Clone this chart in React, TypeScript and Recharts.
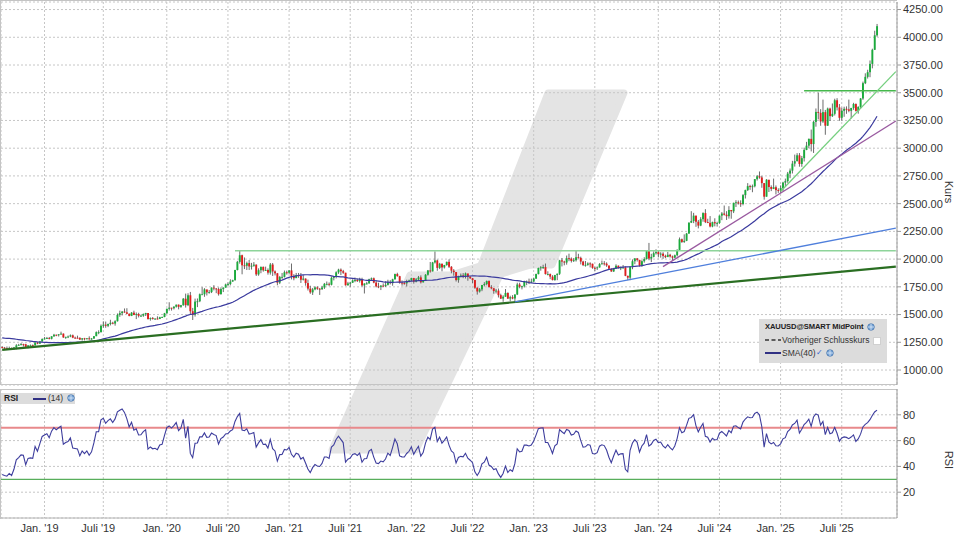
import React from 'react';
import { ComposedChart, Bar, Line, XAxis, YAxis, CartesianGrid, ReferenceLine } from 'recharts';

// ---- weekly closes before the visible window (for SMA / RSI warm-up), Dec 2017 - Aug 2018
const preCloses = [1280,1248,1257,1275,1303,1322,1338,1332,1350,1333,1315,1347,1330,1323,1323,1313,1347,1325,1332,1345,1336,1323,1314,1320,1291,1302,1294,1298,1278,1270,1252,1255,1241,1231,1223,1214,1212,1184,1206];

// ---- visible weekly candles: week 0 = 27 Aug 2018 ... week 372 = 13 Oct 2025
const closes = [
1201,1197,1194,1199,1192,1203,1222,1227,1233,1232,
1209,1222,1223,1222,1248,1238,1257,1280,1285,1289,
1282,1304,1318,1314,1322,1328,1294,1299,1302,1313,
1292,1291,1290,1275,1286,1280,1286,1277,1284,1305,
1341,1341,1399,1409,1399,1415,1426,1419,1440,1497,
1513,1527,1520,1507,1488,1517,1497,1505,1489,1490,
1505,1514,1459,1468,1462,1464,1460,1476,1478,1511,
1552,1562,1557,1571,1589,1570,1584,1643,1585,1674,
1530,1498,1617,1620,1683,1683,1727,1700,1703,1743,
1735,1730,1684,1730,1743,1771,1775,1798,1810,1902,
1975,2035,1944,1940,1964,1934,1940,1950,1862,1900,
1930,1899,1902,1878,1951,1889,1872,1788,1839,1840,
1881,1877,1898,1849,1828,1855,1848,1814,1824,1784,
1734,1700,1727,1745,1733,1729,1744,1777,1777,1769,
1831,1844,1881,1905,1891,1877,1764,1781,1787,1808,
1812,1802,1814,1763,1780,1781,1818,1827,1788,1754,
1750,1761,1757,1768,1793,1783,1818,1865,1846,1788,
1783,1782,1798,1808,1829,1797,1817,1835,1791,1808,
1859,1898,1889,1970,1988,1921,1958,1925,1947,1975,
1931,1896,1883,1811,1846,1853,1850,1871,1840,1827,
1811,1742,1708,1727,1766,1775,1802,1747,1737,1712,
1716,1675,1644,1661,1695,1644,1657,1645,1681,1771,
1751,1755,1797,1797,1793,1798,1824,1865,1920,1926,
1928,1865,1865,1842,1811,1856,1868,1989,1978,1969,
2008,2004,1983,1990,2017,2011,1978,1946,1948,1961,
1958,1921,1919,1925,1955,1962,1959,1943,1914,1889,
1915,1940,1919,1924,1925,1849,1833,1933,1981,2006,
1993,1940,1981,2001,2072,2005,2020,2053,2063,2045,
2049,2029,2018,2039,2024,2013,2035,2083,2179,2155,
2165,2230,2329,2344,2392,2337,2302,2360,2415,2334,
2327,2294,2333,2322,2326,2392,2411,2400,2387,2443,
2431,2507,2512,2503,2497,2577,2622,2658,2654,2657,
2721,2747,2736,2685,2563,2716,2650,2633,2648,2622,
2621,2640,2690,2703,2771,2798,2861,2883,2936,2858,
2910,2984,3023,3084,3037,3237,3327,3319,3241,3325,
3203,3357,3289,3310,3432,3368,3274,3337,3355,3350,
3337,3363,3398,3336,3372,3448,3586,3643,3685,3760,
3887,4018,4100];

const highs = [
1215,1208,1212,1211,1203,1208,1233,1236,1243,1237,
1237,1225,1230,1230,1250,1252,1262,1285,1298,1298,
1298,1305,1326,1320,1324,1346,1330,1300,1311,1321,
1320,1301,1310,1295,1288,1290,1288,1304,1289,1306,
1348,1358,1411,1439,1437,1419,1453,1435,1449,1510,
1535,1531,1555,1557,1510,1523,1535,1519,1516,1499,
1510,1516,1514,1474,1478,1465,1484,1480,1482,1515,
1553,1611,1561,1575,1590,1591,1587,1649,1689,1692,
1704,1560,1644,1645,1690,1747,1738,1722,1722,1745,
1765,1739,1744,1745,1745,1779,1789,1818,1814,1903,
1984,2075,2040,2015,1977,1992,1966,1973,1952,1917,
1933,1933,1932,1916,1965,1965,1898,1875,1848,1875,
1897,1896,1900,1960,1864,1875,1875,1875,1855,1826,
1815,1760,1740,1755,1755,1740,1759,1785,1798,1790,
1843,1846,1890,1913,1916,1903,1877,1795,1795,1818,
1834,1825,1832,1832,1782,1795,1823,1834,1834,1809,
1787,1765,1781,1801,1814,1810,1823,1869,1877,1849,
1808,1793,1814,1815,1832,1831,1829,1848,1853,1811,
1865,1902,1974,1975,2070,1995,1966,1960,1948,1978,
1998,1937,1910,1884,1850,1870,1874,1879,1860,1847,
1830,1813,1745,1739,1767,1792,1807,1808,1765,1740,
1730,1735,1688,1674,1730,1700,1670,1675,1682,1787,
1787,1760,1805,1807,1824,1824,1833,1869,1923,1937,
1949,1960,1890,1870,1855,1858,1870,1993,2010,1985,
2032,2049,2015,2009,2081,2048,2022,1985,1983,1971,
1971,1959,1932,1934,1964,1987,1982,1971,1936,1916,
1921,1953,1943,1933,1947,1934,1851,1934,1997,2009,
2010,1993,1990,2017,2075,2146,2048,2070,2088,2079,
2062,2062,2040,2065,2048,2032,2041,2088,2195,2185,
2223,2236,2330,2432,2417,2391,2353,2378,2422,2450,
2364,2388,2338,2368,2337,2393,2424,2483,2432,2477,
2439,2509,2531,2528,2530,2586,2626,2685,2670,2672,
2722,2758,2790,2750,2686,2721,2712,2665,2726,2664,
2638,2665,2697,2726,2786,2817,2886,2942,2955,2956,
2930,3005,3057,3087,3168,3245,3358,3500,3352,3438,
3345,3366,3365,3403,3446,3451,3398,3365,3374,3377,
3438,3363,3409,3404,3378,3452,3600,3675,3707,3791,
3897,4059,4120];

const lows = [
1195,1190,1191,1191,1181,1182,1187,1220,1222,1211,
1203,1196,1212,1212,1221,1233,1235,1256,1276,1280,
1276,1276,1299,1305,1302,1320,1290,1281,1288,1296,
1287,1281,1284,1271,1266,1267,1276,1273,1272,1281,
1305,1323,1339,1382,1381,1387,1402,1412,1400,1437,
1480,1492,1516,1505,1484,1486,1495,1459,1474,1480,
1480,1487,1456,1445,1455,1452,1456,1459,1471,1476,
1508,1536,1536,1546,1563,1547,1561,1580,1563,1576,
1504,1451,1482,1567,1612,1680,1660,1672,1688,1694,
1718,1693,1671,1680,1703,1743,1757,1763,1795,1806,
1898,1959,1863,1910,1902,1902,1906,1931,1848,1850,
1873,1887,1893,1860,1860,1848,1853,1764,1775,1822,
1834,1860,1866,1817,1809,1830,1831,1785,1807,1760,
1717,1687,1677,1719,1723,1677,1722,1731,1763,1756,
1763,1808,1826,1867,1856,1867,1761,1761,1750,1785,
1792,1794,1788,1752,1690,1771,1778,1810,1782,1745,
1738,1721,1746,1749,1762,1772,1760,1815,1842,1778,
1762,1770,1753,1790,1800,1779,1790,1805,1780,1788,
1807,1851,1878,1889,1960,1895,1910,1890,1915,1940,
1920,1872,1850,1798,1787,1840,1828,1825,1805,1822,
1784,1732,1680,1698,1711,1754,1764,1745,1728,1688,
1690,1654,1640,1615,1660,1641,1618,1638,1617,1676,
1737,1727,1744,1765,1775,1785,1794,1822,1862,1896,
1911,1861,1853,1819,1808,1805,1810,1857,1934,1944,
1950,1981,1969,1974,1978,2005,1952,1937,1932,1940,
1925,1913,1893,1902,1923,1951,1942,1930,1910,1885,
1884,1912,1915,1901,1914,1846,1810,1810,1909,1954,
1978,1932,1931,1968,1997,1990,1973,2016,2041,2016,
2013,2002,2009,2030,2014,1984,2010,2024,2078,2146,
2146,2162,2229,2325,2324,2291,2277,2297,2337,2325,
2324,2286,2287,2295,2293,2319,2351,2393,2353,2365,
2364,2415,2470,2492,2471,2485,2546,2614,2624,2603,
2647,2708,2725,2643,2536,2563,2605,2613,2631,2583,
2597,2596,2614,2656,2688,2730,2772,2834,2881,2833,
2832,2880,2982,2999,2971,2957,3194,3260,3202,3228,
3121,3200,3245,3281,3295,3340,3247,3248,3283,3310,
3324,3268,3346,3330,3311,3360,3436,3578,3628,3640,
3720,3885,4005];

// ---- axes
const slotCount = 381; // weeks shown on the x axis (incl. empty space on the right)
const xTickWeeks = [18, 43, 70, 96, 122, 148, 174, 200, 226, 252, 279, 305, 331, 357];
const xTickLabels = ["Jan. '19", "Juli '19", "Jan. '20", "Juli '20", "Jan. '21", "Juli '21", "Jan. '22", "Juli '22", "Jan. '23", "Juli '23", "Jan. '24", "Juli '24", "Jan. '25", "Juli '25"];
const priceTicks = [1000, 1250, 1500, 1750, 2000, 2250, 2500, 2750, 3000, 3250, 3500, 3750, 4000, 4250];
const priceDomain = [865, 4318];
const rsiTicks = [20, 40, 60, 80];
const rsiLevels = [70, 30];

// ---- drawn trend lines: [week, price] pairs
const trendLong = [[0, 1182], [380, 1932]];
const trendBlue = [[218, 1614], [380, 2280]];
const trendPurple = [[281, 1932], [380, 3245]];
const trendGreen = [[331, 2610], [380, 3690]];
const resistOld = [[99, 2075], [380, 2075]];
const resistNew = [[341, 3518], [380, 3518]];

// ---- indicators derived from the closes
const allCloses = [...preCloses, ...closes];
const P = preCloses.length;
const rsiAll: (number | null)[] = new Array(allCloses.length).fill(null);
(() => {
  let ag = 0, al = 0;
  for (let k = 1; k <= 14; k++) {
    const d = allCloses[k] - allCloses[k - 1];
    if (d > 0) ag += d; else al -= d;
  }
  ag /= 14; al /= 14;
  rsiAll[14] = al === 0 ? 100 : 100 - 100 / (1 + ag / al);
  for (let k = 15; k < allCloses.length; k++) {
    const d = allCloses[k] - allCloses[k - 1];
    ag = (ag * 13 + Math.max(d, 0)) / 14;
    al = (al * 13 + Math.max(-d, 0)) / 14;
    rsiAll[k] = al === 0 ? 100 : 100 - 100 / (1 + ag / al);
  }
})();

const rows = Array.from({ length: slotCount }, (_, i) => {
  if (i >= closes.length) return { i };
  const win = allCloses.slice(P + i - 39, P + i + 1);
  return {
    i,
    open: allCloses[P + i - 1],
    close: closes[i],
    high: highs[i],
    low: lows[i],
    sma: win.reduce((a, b) => a + b, 0) / win.length,
    rsi: rsiAll[P + i],
  };
});

const FONT = '"Liberation Sans", Arial, sans-serif';

const Candle = (props: any) => {
  const { x, y, width, height, payload } = props;
  if (!payload || payload.high == null || x == null || y == null) return null;
  const { open, close, high, low } = payload;
  const top = Math.min(y, y + height);
  const h = Math.abs(height);
  const k = high > low ? h / (high - low) : 0;
  const yOf = (v: number) => top + (high - v) * k;
  const cx = x + width / 2;
  const up = close >= open;
  const bt = yOf(Math.max(open, close));
  const bb = yOf(Math.min(open, close));
  const bw = 1.9;
  return (
    <g>
      <line x1={cx} x2={cx} y1={top} y2={top + h} stroke="#5a5a5a" strokeWidth={0.9} />
      <rect x={cx - bw / 2} y={bt} width={bw} height={Math.max(bb - bt, 0.9)} fill={up ? '#1aab3c' : '#e01c1c'} />
    </g>
  );
};

const XTick = (p: any) => {
  const idx = xTickWeeks.indexOf(Number(p.payload.value));
  return (
    <text x={p.x - 5} y={p.y} dy={14} textAnchor="middle" fontSize={11} fill="#333" fontFamily={FONT}>
      {idx >= 0 ? xTickLabels[idx] : ''}
    </text>
  );
};

const seg = (s: number[][]) => [{ x: s[0][0], y: s[0][1] }, { x: s[1][0], y: s[1][1] }];

const Globe = ({ left, top }: { left: number; top: number }) => (
  <svg width={8} height={8} style={{ position: 'absolute', left, top }}>
    <circle cx={4} cy={4} r={3.3} fill="#7aa6d8" stroke="#3d6fa8" strokeWidth={0.7} />
    <path d="M1 4 H7 M4 0.8 V7.2" stroke="#e8f0fa" strokeWidth={0.7} />
  </svg>
);

export default function App() {
  return (
    <div style={{ position: 'absolute', left: 0, top: 0, width: 960, height: 540, background: '#fff', overflow: 'hidden', fontFamily: FONT }}>
      {/* watermark */}
      <svg width={960} height={540} style={{ position: 'absolute', left: 0, top: 0 }}>
        <path d="M548 93 L624 93 L552 265 L481 265 Z" fill="#e4e4e4" stroke="#e4e4e4" strokeWidth={7} strokeLinejoin="round" />
        <path d="M410 275 L500 275 L416 450 L332 450 Z" fill="#e4e4e4" stroke="#e4e4e4" strokeWidth={7} strokeLinejoin="round" />
        <path d="M481 262 L552 262 L500 278 L430 278 Z" fill="#e4e4e4" />
      </svg>
      {/* panel frames */}
      <div style={{ position: 'absolute', left: 0, top: 0, width: 897, height: 385, borderLeft: '1px solid #c4c4c4', borderTop: '1px solid #c4c4c4', borderBottom: '1px solid #c4c4c4', boxSizing: 'border-box' }} />
      <div style={{ position: 'absolute', left: 0, top: 389, width: 897, height: 130, borderLeft: '1px solid #c4c4c4', borderTop: '1px solid #c4c4c4', boxSizing: 'border-box' }} />

      <div style={{ position: 'absolute', left: 0, top: 0 }}>
        <ComposedChart width={960} height={386} data={rows} margin={{ top: 2, right: 0, bottom: 1, left: 1 }}>
          <CartesianGrid stroke="#c6c6c6" strokeDasharray="2 2" />
          <XAxis dataKey="i" type="category" hide ticks={xTickWeeks} interval={0} />
          <YAxis orientation="right" width={63} domain={priceDomain} ticks={priceTicks} allowDataOverflow
            tickFormatter={(v: number) => v.toFixed(2)} tick={{ fontSize: 11, fill: '#333' }}
            tickSize={4} tickMargin={2} axisLine={{ stroke: '#9a9a9a' }} tickLine={{ stroke: '#9a9a9a' }} />
          <Bar dataKey={(d: any) => (d.high != null ? [d.low, d.high] : null)} shape={Candle} isAnimationActive={false} />
          <Line dataKey="sma" stroke="#3a3a9e" strokeWidth={1.2} dot={false} isAnimationActive={false} />
          <ReferenceLine segment={seg(resistOld)} stroke="#8ed49a" strokeWidth={1.6} />
          <ReferenceLine segment={seg(resistNew)} stroke="#45b84c" strokeWidth={1.5} />
          <ReferenceLine segment={seg(trendLong)} stroke="#2a6e22" strokeWidth={2.2} />
          <ReferenceLine segment={seg(trendBlue)} stroke="#4f7fdc" strokeWidth={1.3} />
          <ReferenceLine segment={seg(trendPurple)} stroke="#9a5aa0" strokeWidth={1.4} />
          <ReferenceLine segment={seg(trendGreen)} stroke="#74cf7e" strokeWidth={1.3} />
        </ComposedChart>
      </div>

      <div style={{ position: 'absolute', left: 0, top: 389 }}>
        <ComposedChart width={960} height={151} data={rows} margin={{ top: 0, right: 0, bottom: 0, left: 1 }}>
          <CartesianGrid stroke="#c6c6c6" strokeDasharray="2 2" />
          <XAxis dataKey="i" type="category" ticks={xTickWeeks} interval={0} height={22} tickLine={false} tickSize={0} tickMargin={0}
            axisLine={{ stroke: '#b4b4b4' }} tick={<XTick />} />
          <YAxis orientation="right" width={63} domain={[0, 100]} ticks={rsiTicks} tick={{ fontSize: 11, fill: '#333' }}
            tickSize={4} tickMargin={2} axisLine={{ stroke: '#9a9a9a' }} tickLine={{ stroke: '#9a9a9a' }} />
          <ReferenceLine y={rsiLevels[0]} stroke="#e8898b" strokeWidth={2} />
          <ReferenceLine y={rsiLevels[1]} stroke="#2f9a33" strokeWidth={1} />
          <Bar dataKey="none" isAnimationActive={false} />
          <Line dataKey="rsi" stroke="#3d3d9d" strokeWidth={1.1} dot={false} isAnimationActive={false} />
        </ComposedChart>
      </div>

      {/* axis titles */}
      <svg width={960} height={540} style={{ position: 'absolute', left: 0, top: 0, pointerEvents: 'none' }}>
        <text x={945} y={192} fontSize={11} fill="#333" fontFamily={FONT} textAnchor="middle" transform="rotate(90 945 192)">Kurs</text>
        <text x={945} y={460} fontSize={11} fill="#333" fontFamily={FONT} textAnchor="middle" transform="rotate(90 945 460)">RSI</text>
      </svg>

      {/* main legend */}
      <div style={{ position: 'absolute', left: 759, top: 319, width: 128, height: 44, background: '#dcdcdc', fontSize: 8.5, lineHeight: '10px', color: '#222' }}>
        <div style={{ position: 'absolute', left: 6, top: 3, fontWeight: 'bold', whiteSpace: 'nowrap', fontSize: 7.6, letterSpacing: -0.1 }}>XAUUSD@SMART MidPoint</div>
        <Globe left={108} top={4} />
        <svg width={16} height={4} style={{ position: 'absolute', left: 6, top: 19 }}>
          <line x1={0} x2={16} y1={2} y2={2} stroke="#333" strokeWidth={1.4} strokeDasharray="4 2.5" />
        </svg>
        <div style={{ position: 'absolute', left: 23, top: 16, whiteSpace: 'nowrap', color: '#333' }}>Vorheriger Schlusskurs</div>
        <div style={{ position: 'absolute', left: 114, top: 18, width: 6, height: 6, background: '#fff', border: '1px solid #d0d0d0' }} />
        <svg width={16} height={4} style={{ position: 'absolute', left: 6, top: 32 }}>
          <line x1={0} x2={16} y1={2} y2={2} stroke="#1e1e7a" strokeWidth={1.8} />
        </svg>
        <div style={{ position: 'absolute', left: 23, top: 29, whiteSpace: 'nowrap', color: '#333' }}>SMA(40)</div>
        <div style={{ position: 'absolute', left: 57, top: 29, color: '#3566d0', fontSize: 8 }}>✓</div>
        <Globe left={67} top={30} />
      </div>

      {/* RSI legend */}
      <div style={{ position: 'absolute', left: 1, top: 393, width: 74, height: 11, background: '#dcdcdc', fontSize: 8.5, lineHeight: '11px', color: '#222' }}>
        <div style={{ position: 'absolute', left: 3, top: 0, fontWeight: 'bold' }}>RSI</div>
        <svg width={13} height={4} style={{ position: 'absolute', left: 32, top: 4 }}>
          <line x1={0} x2={13} y1={2} y2={2} stroke="#1e1e7a" strokeWidth={1.8} />
        </svg>
        <div style={{ position: 'absolute', left: 47, top: 0, color: '#333' }}>(14)</div>
        <Globe left={66} top={1} />
      </div>
    </div>
  );
}
